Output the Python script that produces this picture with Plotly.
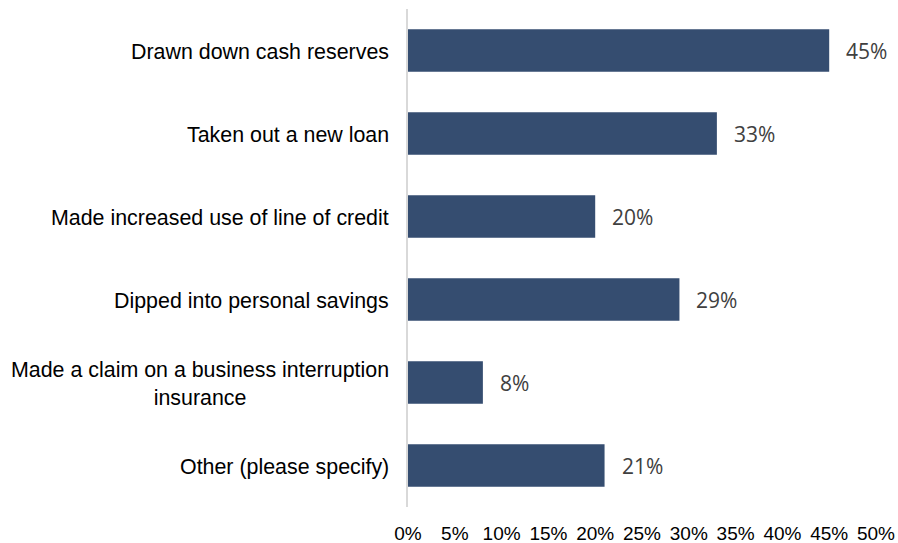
import plotly.graph_objects as go

# Survey responses: how businesses covered cash shortfalls
categories = [
    "Drawn down cash reserves",
    "Taken out a new loan",
    "Made increased use of line of credit",
    "Dipped into personal savings",
    "Made a claim on a business interruption<br>insurance",
    "Other (please specify)",
]
shares = [0.45, 0.33, 0.20, 0.29, 0.08, 0.21]
tick_values = [0, 0.05, 0.10, 0.15, 0.20, 0.25, 0.30, 0.35, 0.40, 0.45, 0.50]
tick_labels = ["0%", "5%", "10%", "15%", "20%", "25%", "30%", "35%", "40%", "45%", "50%"]

bar_color = "#354D70"
label_font = "Liberation Sans, Arial, sans-serif"
value_font = "Open Sans, sans-serif"

fig = go.Figure(
    go.Bar(
        x=shares,
        y=list(range(len(categories))),
        orientation="h",
        marker=dict(color=bar_color, line=dict(width=0)),
        hoverinfo="skip",
    )
)

annotations = []
# category labels, centred multi-line text right-aligned to the axis
for i, cat in enumerate(categories):
    annotations.append(
        dict(
            x=0, xref="paper", y=i, yref="y",
            text=cat, showarrow=False,
            xanchor="right", yanchor="middle", align="center",
            xshift=-17, yshift=-1,
            font=dict(family=label_font, size=21.4, color="#000000"),
        )
    )
# value labels at the end of each bar
for i, v in enumerate(shares):
    annotations.append(
        dict(
            x=v, xref="x", y=i, yref="y",
            text=f"{round(v * 100)}%", showarrow=False,
            xanchor="left", yanchor="middle", xshift=15,
            font=dict(family=value_font, size=21, color="#404040"),
        )
    )

fig.update_layout(
    width=898,
    height=543,
    margin=dict(l=408, r=22, t=9, b=36),
    paper_bgcolor="white",
    plot_bgcolor="white",
    bargap=0.49,
    showlegend=False,
    annotations=annotations,
    xaxis=dict(
        range=[0, 0.5],
        tickvals=tick_values,
        ticktext=tick_labels,
        showgrid=False,
        zeroline=False,
        showline=False,
        automargin=False,
        ticks="outside",
        ticklen=9,
        tickcolor="rgba(0,0,0,0)",
        tickfont=dict(family=label_font, size=19, color="#000000"),
    ),
    yaxis=dict(
        range=[len(categories) - 0.5, -0.5],
        showticklabels=False,
        showgrid=False,
        zeroline=False,
        automargin=False,
        showline=True,
        linecolor="#D9D9D9",
        linewidth=2,
        ticks="",
    ),
)

fig.write_html("out.html")
